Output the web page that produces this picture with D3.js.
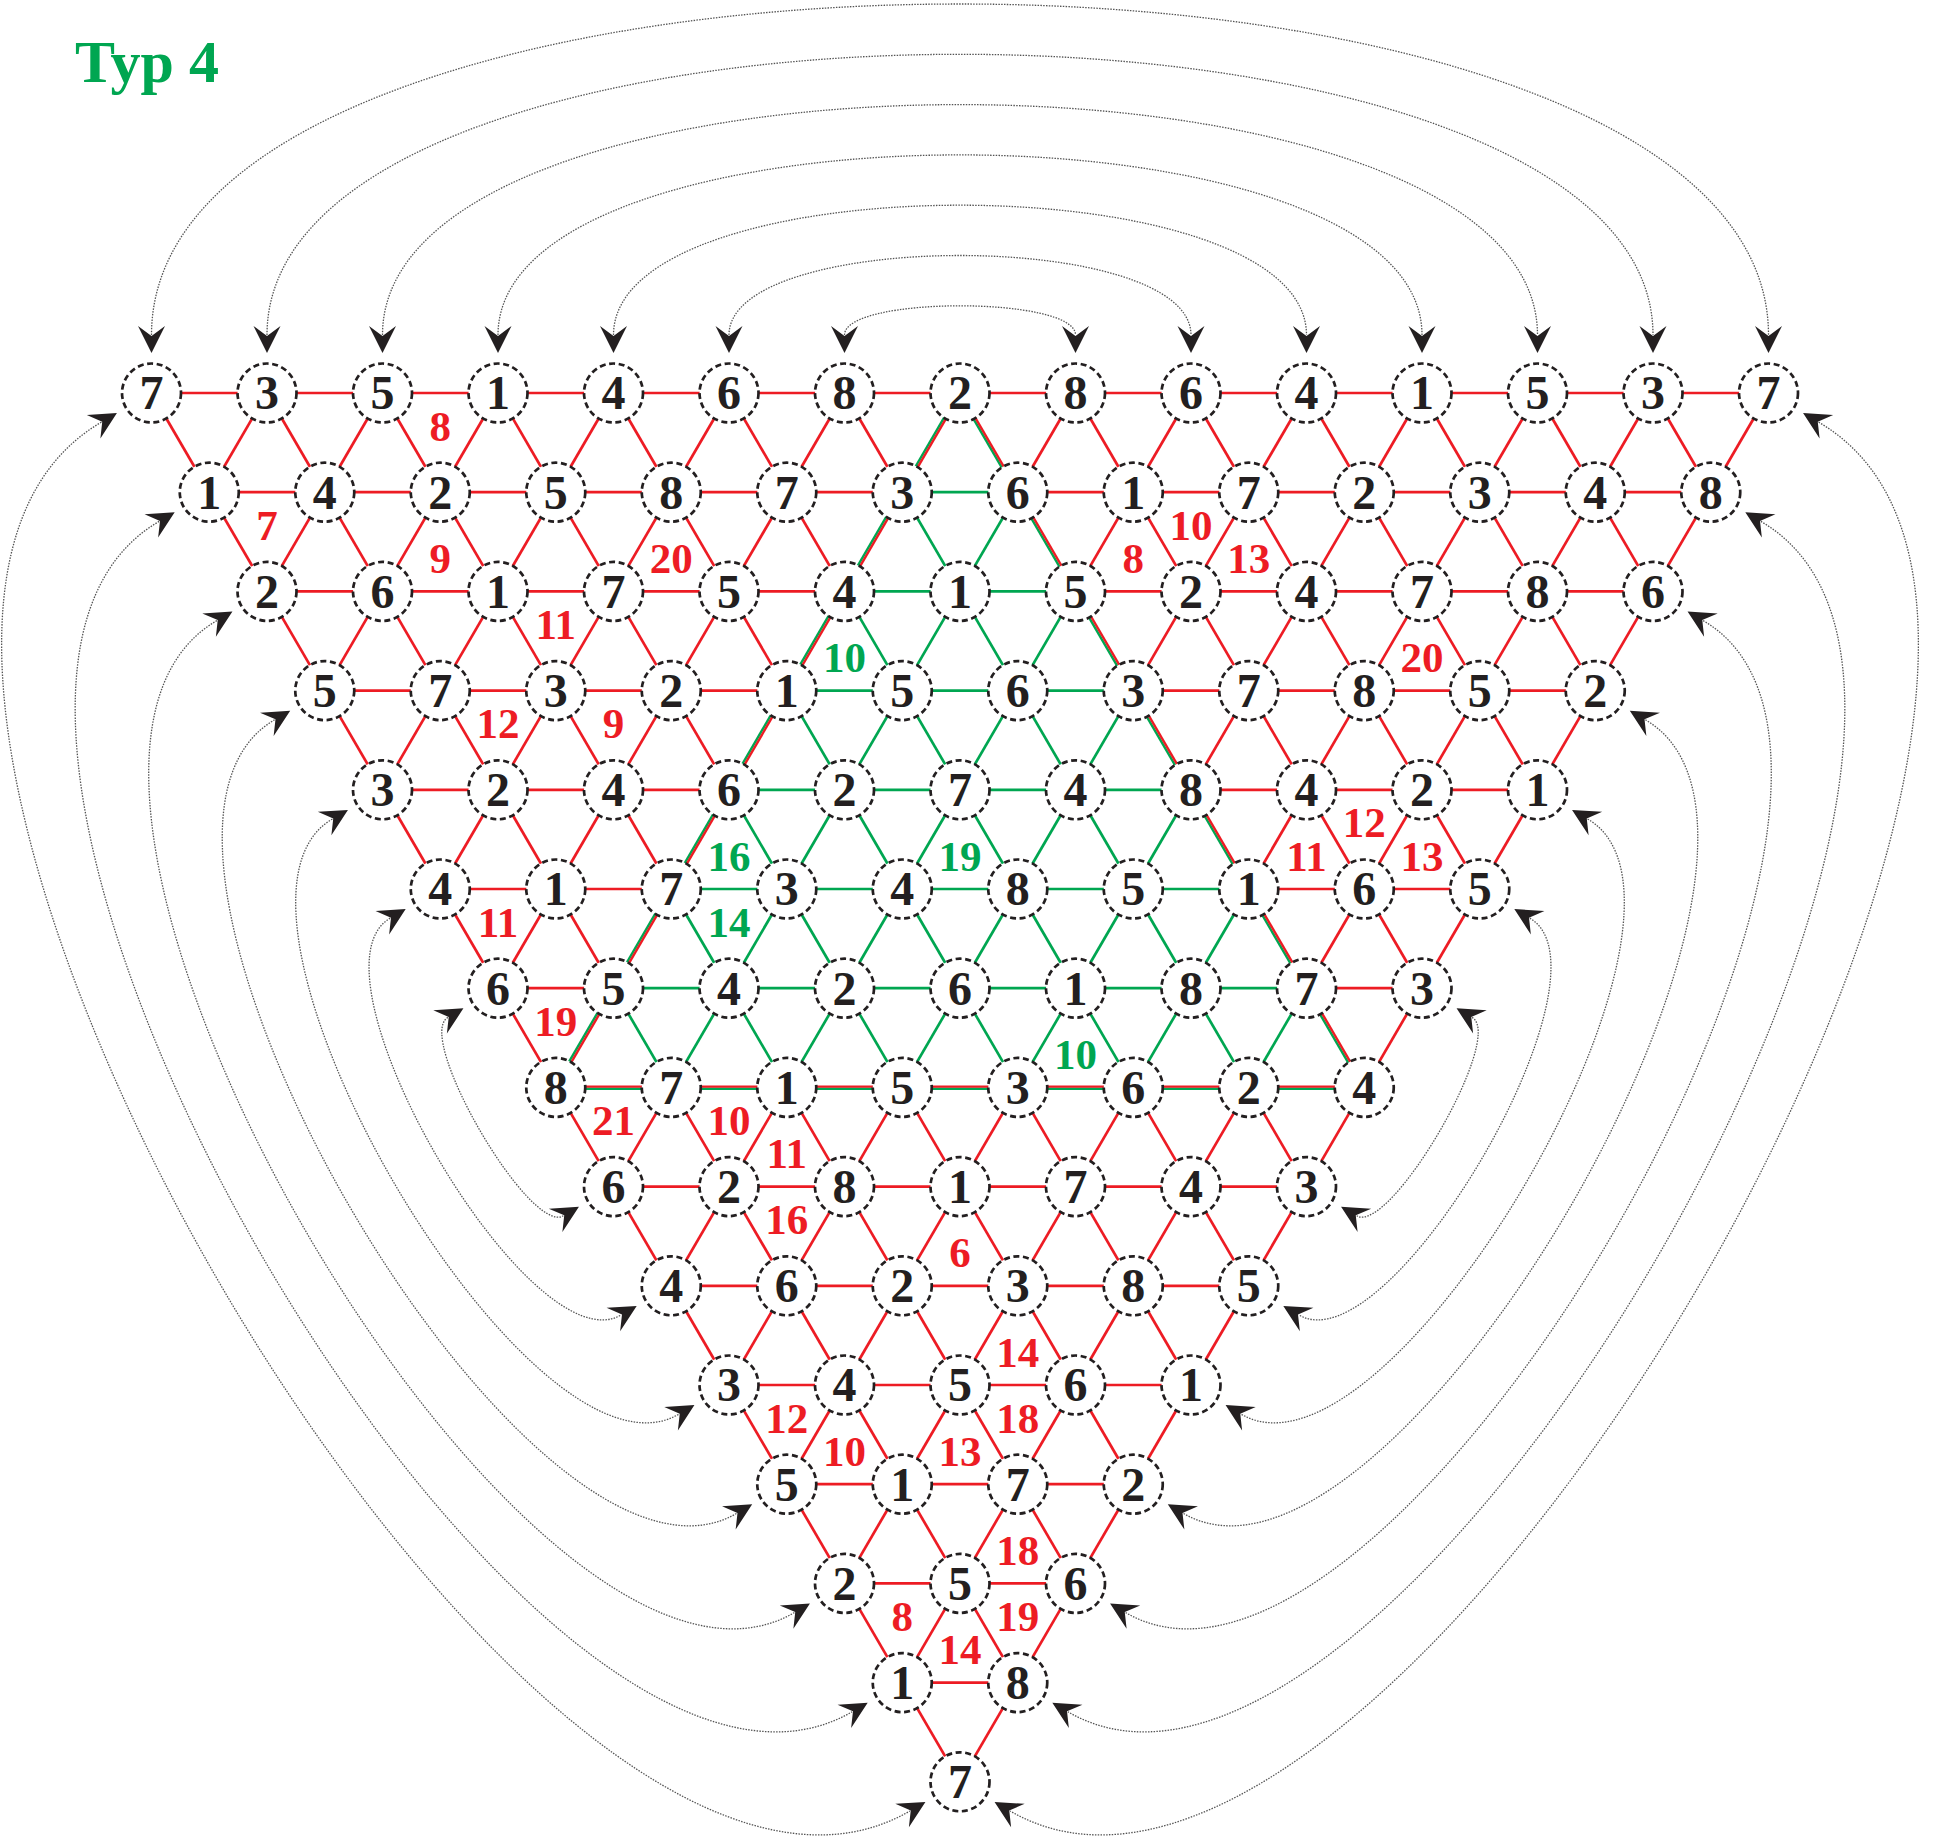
<!doctype html>
<html>
<head>
<meta charset="utf-8">
<script src="https://d3js.org/d3.v7.min.js"></script>
<style>
  body { margin: 0; background: #fff; }
</style>
</head>
<body>
<div id="chart"></div>
<script>
const width = 1934, height = 1839;

// numbers in the circles, one list per row (top row first)
const rows = [
    [7, 3, 5, 1, 4, 6, 8, 2, 8, 6, 4, 1, 5, 3, 7],
    [1, 4, 2, 5, 8, 7, 3, 6, 1, 7, 2, 3, 4, 8],
    [2, 6, 1, 7, 5, 4, 1, 5, 2, 4, 7, 8, 6],
    [5, 7, 3, 2, 1, 5, 6, 3, 7, 8, 5, 2],
    [3, 2, 4, 6, 2, 7, 4, 8, 4, 2, 1],
    [4, 1, 7, 3, 4, 8, 5, 1, 6, 5],
    [6, 5, 4, 2, 6, 1, 8, 7, 3],
    [8, 7, 1, 5, 3, 6, 2, 4],
    [6, 2, 8, 1, 7, 4, 3],
    [4, 6, 2, 3, 8, 5],
    [3, 4, 5, 6, 1],
    [5, 1, 7, 2],
    [2, 5, 6],
    [1, 8],
    [7]
];

// green sub-triangle: tip (row, column) and number of rows below the tip
const greenTip = [0, 7];
const greenDepth = 7;

// triangle sums: [row, column, shape, value]
// shape "v": two corners on `row`, one below; "^": one corner on `row`, two below
const redLabels = [
    [0, 2.5, "v", 8], [1, 1, "v", 7], [1, 2.5, "^", 9], [1, 4.5, "^", 20],
    [2, 3.5, "v", 11], [3, 3, "v", 12], [3, 4, "v", 9], [5, 3, "v", 11],
    [6, 3.5, "v", 19], [7, 4, "v", 21], [7, 5, "v", 10], [7, 5.5, "^", 11],
    [8, 5.5, "v", 16], [8, 7, "^", 6], [9, 7.5, "^", 14], [10, 5.5, "v", 12],
    [10, 6, "^", 10], [10, 7, "^", 13], [10, 7.5, "v", 18], [11, 7.5, "^", 18],
    [12, 6.5, "v", 8], [12, 7.5, "v", 19], [12, 7, "^", 14],
    [1, 9, "v", 10], [1, 8.5, "^", 8], [1, 9.5, "^", 13], [2, 11, "^", 20],
    [4, 10.5, "v", 12], [4, 10, "^", 11], [4, 11, "^", 13]
];
const greenLabels = [
    [2, 6, "^", 10], [4, 5, "^", 16], [4, 7, "^", 19], [5, 5, "v", 14], [6, 8, "^", 10]
];

const title = "Typ 4";

const RED = "#ed1c24", GREEN = "#00a651", INK = "#231f20";
const nodeR = 29.5;
const serif = "'Liberation Serif', 'DejaVu Serif', serif";

const x = d3.scaleLinear().domain([0, 14]).range([151.5, 1768.5]);
const y = d3.scaleLinear().domain([0, 14]).range([393, 1781.8]);

const svg = d3.select("#chart").append("svg")
    .attr("width", width)
    .attr("height", height)
    .style("background", "#fff");

// ---- nodes and edges
const nodes = [];
rows.forEach(function (row, r) {
    row.forEach(function (v, i) {
        nodes.push({r: r, i: i, u: i + r / 2, v: v});
    });
});
const at = function (r, i) { return nodes.find(function (n) { return n.r === r && n.i === i; }); };

const edges = [];
nodes.forEach(function (n) {
    if (n.i + 1 < rows[n.r].length) edges.push([n, at(n.r, n.i + 1)]);
    if (n.r + 1 < rows.length) {
        if (n.i - 1 >= 0) edges.push([n, at(n.r + 1, n.i - 1)]);
        if (n.i < rows[n.r + 1].length) edges.push([n, at(n.r + 1, n.i)]);
    }
});

function inTri(n) {
    const d = n.r - greenTip[0];
    return d >= 0 && d <= greenDepth && Math.abs(n.u - greenTip[1]) <= d / 2 + 1e-6;
}
function side(n) {
    const d = n.r - greenTip[0];
    return {
        left: Math.abs(n.u - (greenTip[1] - d / 2)) < 1e-6,
        right: Math.abs(n.u - (greenTip[1] + d / 2)) < 1e-6,
        base: d === greenDepth
    };
}
function edgeKind(e) {
    if (!inTri(e[0]) || !inTri(e[1])) return "red";
    const a = side(e[0]), b = side(e[1]);
    if ((a.left && b.left) || (a.right && b.right) || (a.base && b.base)) return "both";
    return "green";
}

function offsetLine(g, e, off, color, w) {
    const x1 = x(e[0].u), y1 = y(e[0].r), x2 = x(e[1].u), y2 = y(e[1].r);
    const len = Math.hypot(x2 - x1, y2 - y1);
    const ox = -(y2 - y1) / len * off, oy = (x2 - x1) / len * off;
    g.append("line")
        .attr("x1", x1 + ox).attr("y1", y1 + oy)
        .attr("x2", x2 + ox).attr("y2", y2 + oy)
        .attr("stroke", color)
        .attr("stroke-width", w);
}

const gEdges = svg.append("g");
edges.forEach(function (e) {
    const k = edgeKind(e);
    if (k === "red") offsetLine(gEdges, e, 0, RED, 2.7);
    else if (k === "green") offsetLine(gEdges, e, 0, GREEN, 2.7);
    else {
        offsetLine(gEdges, e, 1.4, GREEN, 2.4);
        offsetLine(gEdges, e, -0.8, RED, 2.4);
    }
});

// ---- dotted swap arrows along the three outer sides
const corners = [
    [x(0), y(0)], [x(14), y(0)], [x(7), y(14)]
];
const cx = d3.mean(corners, function (c) { return c[0]; });
const cy = d3.mean(corners, function (c) { return c[1]; });
const sides = [[corners[0], corners[1]], [corners[0], corners[2]], [corners[1], corners[2]]];

const gArrows = svg.append("g");
sides.forEach(function (s) {
    const P = s[0], Q = s[1];
    const L = Math.hypot(Q[0] - P[0], Q[1] - P[1]);
    let nx = -(Q[1] - P[1]) / L, ny = (Q[0] - P[0]) / L;
    const mx = (P[0] + Q[0]) / 2, my = (P[1] + Q[1]) / 2;
    if ((mx - cx) * nx + (my - cy) * ny < 0) { nx = -nx; ny = -ny; }
    d3.range(7).forEach(function (k) {
        const A = [P[0] + (Q[0] - P[0]) * k / 14, P[1] + (Q[1] - P[1]) * k / 14];
        const B = [P[0] + (Q[0] - P[0]) * (14 - k) / 14, P[1] + (Q[1] - P[1]) * (14 - k) / 14];
        const start = 58, peak = 389 - 50.3 * k;
        const h = start + (peak - start) / 0.75;
        const p = d3.path();
        p.moveTo(A[0] + nx * start, A[1] + ny * start);
        p.bezierCurveTo(A[0] + nx * h, A[1] + ny * h, B[0] + nx * h, B[1] + ny * h,
            B[0] + nx * start, B[1] + ny * start);
        gArrows.append("path")
            .attr("d", p.toString())
            .attr("fill", "none")
            .attr("stroke", "#555")
            .attr("stroke-width", 1.3)
            .attr("stroke-dasharray", "1.5,1.3");
        [A, B].forEach(function (E) {
            const tx = E[0] + nx * 40, ty = E[1] + ny * 40;
            const dx = -nx, dy = -ny, px = -dy, py = dx;
            const pts = [
                [tx, ty],
                [tx - dx * 27 + px * 13.5, ty - dy * 27 + py * 13.5],
                [tx - dx * 17, ty - dy * 17],
                [tx - dx * 27 - px * 13.5, ty - dy * 27 - py * 13.5]
            ];
            gArrows.append("path")
                .attr("d", "M" + pts.join("L") + "Z")
                .attr("fill", INK);
        });
    });
});

// ---- circles
const gNodes = svg.append("g").selectAll("g")
    .data(nodes)
    .enter().append("g")
    .attr("transform", function (d) { return "translate(" + x(d.u) + "," + y(d.r) + ")"; });

gNodes.append("circle")
    .attr("r", nodeR)
    .attr("fill", "#fff")
    .attr("stroke", INK)
    .attr("stroke-width", 2.7)
    .attr("stroke-dasharray", "6,3.6");

gNodes.append("text")
    .attr("text-anchor", "middle")
    .attr("dy", "0.34em")
    .attr("font-family", serif)
    .attr("font-weight", "bold")
    .attr("font-size", 48)
    .attr("fill", INK)
    .text(function (d) { return d.v; });

// ---- triangle sums
function labelY(d) { return d[0] + (d[2] === "v" ? 1 / 3 : 2 / 3); }

[[redLabels, RED], [greenLabels, GREEN]].forEach(function (set) {
    svg.append("g").selectAll("text")
        .data(set[0])
        .enter().append("text")
        .attr("x", function (d) { return x(d[1]); })
        .attr("y", function (d) { return y(labelY(d)); })
        .attr("dy", "0.34em")
        .attr("text-anchor", "middle")
        .attr("font-family", serif)
        .attr("font-weight", "bold")
        .attr("font-size", 43)
        .attr("fill", set[1])
        .text(function (d) { return d[3]; });
});

svg.append("text")
    .attr("x", 75)
    .attr("y", 82)
    .attr("font-family", serif)
    .attr("font-weight", "bold")
    .attr("font-size", 60)
    .attr("fill", GREEN)
    .text(title);
</script>
</body>
</html>
